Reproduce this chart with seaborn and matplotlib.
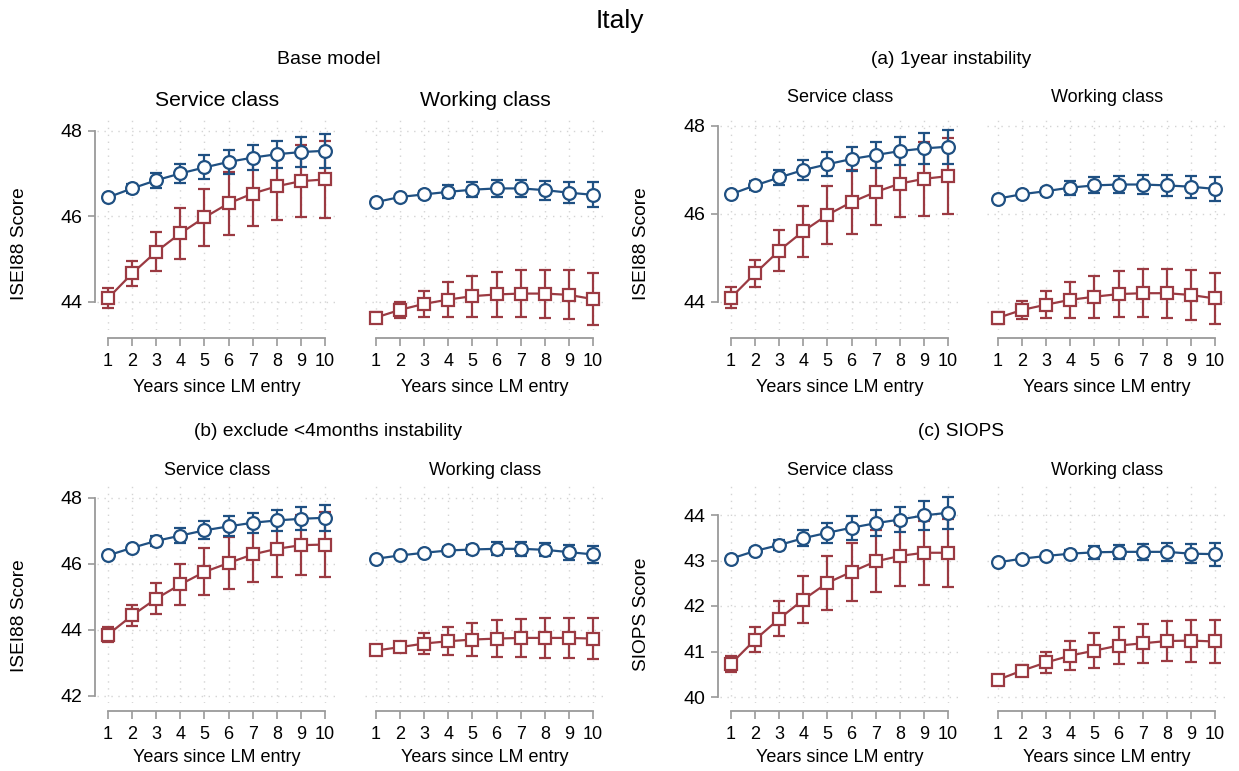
import matplotlib
matplotlib.use("Agg")
import matplotlib.pyplot as plt
import seaborn as sns
import pandas as pd

# ---------------------------------------------------------------------------
# Predicted occupational scores by years since labour-market entry
# (point estimate and half-width of the 95% confidence interval)
# ---------------------------------------------------------------------------
years = [1, 2, 3, 4, 5, 6, 7, 8, 9, 10]

# Base model (ISEI88)
base_service_stable = [46.44, 46.65, 46.84, 47.00, 47.14, 47.27, 47.37, 47.45, 47.50, 47.53]
base_service_stable_ci = [0.05, 0.10, 0.17, 0.23, 0.28, 0.28, 0.30, 0.32, 0.35, 0.40]
base_service_unstable = [44.08, 44.66, 45.17, 45.60, 45.97, 46.30, 46.53, 46.70, 46.82, 46.86]
base_service_unstable_ci = [0.23, 0.29, 0.45, 0.59, 0.67, 0.74, 0.75, 0.80, 0.84, 0.90]
base_working_stable = [46.33, 46.45, 46.51, 46.57, 46.62, 46.65, 46.65, 46.61, 46.55, 46.50]
base_working_stable_ci = [0.03, 0.05, 0.08, 0.15, 0.18, 0.20, 0.20, 0.22, 0.25, 0.29]
base_working_unstable = [43.63, 43.81, 43.95, 44.05, 44.13, 44.17, 44.19, 44.19, 44.16, 44.06]
base_working_unstable_ci = [0.13, 0.19, 0.31, 0.41, 0.48, 0.53, 0.55, 0.56, 0.57, 0.60]

# (a) 1 year instability (ISEI88)
a_service_stable = [46.45, 46.65, 46.83, 47.00, 47.13, 47.25, 47.34, 47.43, 47.49, 47.53]
a_service_stable_ci = [0.05, 0.10, 0.17, 0.22, 0.27, 0.28, 0.30, 0.32, 0.35, 0.39]
a_service_unstable = [44.10, 44.65, 45.17, 45.61, 45.98, 46.27, 46.50, 46.69, 46.80, 46.86]
a_service_unstable_ci = [0.24, 0.31, 0.46, 0.58, 0.66, 0.73, 0.74, 0.76, 0.84, 0.87]
a_working_stable = [46.35, 46.45, 46.52, 46.60, 46.65, 46.67, 46.67, 46.65, 46.62, 46.57]
a_working_stable_ci = [0.03, 0.05, 0.08, 0.16, 0.18, 0.20, 0.22, 0.24, 0.25, 0.27]
a_working_unstable = [43.64, 43.82, 43.94, 44.05, 44.12, 44.18, 44.20, 44.20, 44.16, 44.08]
a_working_unstable_ci = [0.13, 0.20, 0.31, 0.41, 0.48, 0.52, 0.55, 0.56, 0.56, 0.59]

# (b) exclude <4 months instability (ISEI88)
b_service_stable = [46.26, 46.49, 46.70, 46.86, 47.02, 47.14, 47.25, 47.32, 47.37, 47.40]
b_service_stable_ci = [0.05, 0.07, 0.15, 0.23, 0.27, 0.30, 0.31, 0.33, 0.35, 0.39]
b_service_unstable = [43.86, 44.44, 44.95, 45.38, 45.76, 46.03, 46.29, 46.46, 46.57, 46.59]
b_service_unstable_ci = [0.22, 0.32, 0.47, 0.62, 0.71, 0.78, 0.84, 0.86, 0.91, 0.98]
b_working_stable = [46.16, 46.26, 46.34, 46.41, 46.44, 46.46, 46.46, 46.43, 46.36, 46.29]
b_working_stable_ci = [0.02, 0.03, 0.05, 0.10, 0.15, 0.20, 0.22, 0.20, 0.23, 0.27]
b_working_unstable = [43.38, 43.48, 43.59, 43.66, 43.71, 43.74, 43.76, 43.76, 43.76, 43.74]
b_working_unstable_ci = [0.07, 0.10, 0.33, 0.43, 0.50, 0.55, 0.58, 0.60, 0.61, 0.63]

# (c) SIOPS
c_service_stable = [43.04, 43.21, 43.34, 43.49, 43.61, 43.72, 43.82, 43.90, 43.99, 44.05]
c_service_stable_ci = [0.03, 0.06, 0.11, 0.18, 0.22, 0.26, 0.29, 0.28, 0.31, 0.35]
c_service_unstable = [40.73, 41.26, 41.72, 42.14, 42.51, 42.75, 42.98, 43.10, 43.17, 43.17]
c_service_unstable_ci = [0.18, 0.27, 0.39, 0.51, 0.59, 0.64, 0.68, 0.67, 0.70, 0.75]
c_working_stable = [42.96, 43.04, 43.10, 43.15, 43.18, 43.19, 43.19, 43.19, 43.15, 43.14]
c_working_stable_ci = [0.02, 0.03, 0.04, 0.07, 0.14, 0.16, 0.18, 0.20, 0.21, 0.25]
c_working_unstable = [40.38, 40.58, 40.76, 40.91, 41.02, 41.13, 41.18, 41.23, 41.24, 41.22]
c_working_unstable_ci = [0.05, 0.12, 0.24, 0.32, 0.38, 0.41, 0.43, 0.44, 0.46, 0.48]

# ---------------------------------------------------------------------------
sns.set_theme(style="white")
plt.rcParams["font.family"] = ["Liberation Sans", "DejaVu Sans"]

BLUE = "#1f5082"
RED = "#9b3a42"
AXIS_GREY = "#9a9a9a"
GRID_GREY = "#d4d4d4"
LW = 1.6

W, H = 1239, 771
fig = plt.figure(figsize=(W / 100, H / 100), dpi=100)
fig.patch.set_facecolor("white")


def fx(px):
    return px / W


def fy(py):
    return 1 - py / H


def add_panel(x1_px, x10_px, ytop, ybot, yanch, yticks, stable, stable_ci,
              unstable, unstable_ci, show_y, spine_off_px=8):
    """Add one axes whose data coordinates land on the requested pixels."""
    left, right = x1_px - 11, x10_px + 11
    ax = fig.add_axes([fx(left), fy(ybot), (right - left) / W, (ybot - ytop) / H])
    ppu_x = (x10_px - x1_px) / 9
    ax.set_xlim(1 - (x1_px - left) / ppu_x, 10 + (right - x10_px) / ppu_x)
    (va, pa), (vb, pb) = yanch
    ppu_y = (pb - pa) / (va - vb)
    ax.set_ylim(va - (ybot - pa) / ppu_y, va + (pa - ytop) / ppu_y)

    df = pd.DataFrame({
        "year": years * 2,
        "score": stable + unstable,
        "ci": stable_ci + unstable_ci,
        "series": ["stable"] * 10 + ["unstable"] * 10,
    })
    styles = (("unstable", RED, "s", 8.6), ("stable", BLUE, "o", 9.2))

    # confidence intervals
    for name, color, marker, ms in styles:
        sub = df[df["series"] == name]
        ax.errorbar(sub["year"], sub["score"], yerr=sub["ci"], fmt="none",
                    ecolor=color, elinewidth=LW, capsize=4.4, capthick=LW,
                    zorder=2)
    # point estimates connected by lines, hollow markers on top
    for name, color, marker, ms in styles:
        sub = df[df["series"] == name]
        sns.lineplot(data=sub, x="year", y="score", ax=ax, color=color,
                     marker=marker, markersize=ms, markerfacecolor="white",
                     markeredgecolor=color, markeredgewidth=LW, linewidth=LW,
                     errorbar=None, legend=False, zorder=3)
    for ln in ax.lines:
        if ln.get_marker() in ("o", "s"):
            ln.set_markerfacecolor("white")
            ln.set_markeredgecolor(ln.get_color())
            ln.set_markeredgewidth(LW)

    ax.set_xticks(years)
    ax.set_yticks(yticks)
    ax.grid(True, color=GRID_GREY, linestyle=(0, (1, 4)), linewidth=1.0)
    ax.set_axisbelow(True)
    ax.set_xlabel("")
    ax.set_ylabel("")
    for s in ("top", "right"):
        ax.spines[s].set_visible(False)
    ax.spines["bottom"].set_position(("outward", spine_off_px * 0.72))
    ax.spines["bottom"].set_bounds(1, 10)
    ax.spines["bottom"].set_color(AXIS_GREY)
    ax.spines["bottom"].set_linewidth(1.3)
    ax.tick_params(axis="x", bottom=True, length=5.5, width=1.2,
                   color=AXIS_GREY, labelsize=13, pad=5, labelcolor="black")
    if show_y:
        ax.spines["left"].set_position(("outward", 2 * 0.72))
        ax.spines["left"].set_bounds(min(yticks), max(yticks))
        ax.spines["left"].set_color(AXIS_GREY)
        ax.spines["left"].set_linewidth(1.3)
        ax.tick_params(axis="y", left=True, length=5, width=1.2,
                       color=AXIS_GREY, labelsize=14, pad=4, labelcolor="black")
    else:
        ax.spines["left"].set_visible(False)
        ax.tick_params(axis="y", left=False, labelleft=False)
    ax.set_facecolor("white")
    return ax


def label_panel(cx, cy, text, size):
    fig.text(fx(cx), fy(cy), text, ha="center", va="center", fontsize=size,
             color="black")


def ylabel_panel(cx, cy, text):
    fig.text(fx(cx), fy(cy), text, rotation=90, ha="center", va="center",
             fontsize=13.8, color="black")


# Overall title
label_panel(620, 21, "Italy", 19)

# ---- Base model --------------------------------------------------------
add_panel(108, 325, 115, 330, ((48, 130.7), (44, 301.7)), [44, 46, 48],
          base_service_stable, base_service_stable_ci,
          base_service_unstable, base_service_unstable_ci, True)
add_panel(376, 593, 115, 330, ((48, 130.7), (44, 301.7)), [44, 46, 48],
          base_working_stable, base_working_stable_ci,
          base_working_unstable, base_working_unstable_ci, False)
label_panel(329, 60, "Base model", 14)
label_panel(217, 101, "Service class", 15.2)
label_panel(485, 101, "Working class", 15.2)
label_panel(217, 387, "Years since LM entry", 13)
label_panel(485, 387, "Years since LM entry", 13)
ylabel_panel(20, 244, "ISEI88 Score")

# ---- (a) 1 year instability ----------------------------------------------
add_panel(731, 948, 115, 330, ((48, 126), (44, 302)), [44, 46, 48],
          a_service_stable, a_service_stable_ci,
          a_service_unstable, a_service_unstable_ci, True)
add_panel(998, 1215, 115, 330, ((48, 126), (44, 302)), [44, 46, 48],
          a_working_stable, a_working_stable_ci,
          a_working_unstable, a_working_unstable_ci, False)
label_panel(951, 60, "(a) 1year instability", 13.8)
label_panel(840, 98, "Service class", 13)
label_panel(1107, 98, "Working class", 13)
label_panel(840, 387, "Years since LM entry", 13)
label_panel(1107, 387, "Years since LM entry", 13)
ylabel_panel(641, 244, "ISEI88 Score")

# ---- (b) exclude <4 months instability ------------------------------------
add_panel(108, 325, 485, 703, ((48, 498), (42, 696)), [42, 44, 46, 48],
          b_service_stable, b_service_stable_ci,
          b_service_unstable, b_service_unstable_ci, True)
add_panel(376, 593, 485, 703, ((48, 498), (42, 696)), [42, 44, 46, 48],
          b_working_stable, b_working_stable_ci,
          b_working_unstable, b_working_unstable_ci, False)
label_panel(328, 432, "(b) exclude <4months instability", 13.8)
label_panel(217, 470, "Service class", 13)
label_panel(485, 470, "Working class", 13)
label_panel(217, 758, "Years since LM entry", 13)
label_panel(485, 758, "Years since LM entry", 13)
ylabel_panel(20, 616, "ISEI88 Score")

# ---- (c) SIOPS ----------------------------------------------------------
add_panel(731, 948, 485, 703, ((44, 515), (40, 697)), [40, 41, 42, 43, 44],
          c_service_stable, c_service_stable_ci,
          c_service_unstable, c_service_unstable_ci, True)
add_panel(998, 1215, 485, 703, ((44, 515), (40, 697)), [40, 41, 42, 43, 44],
          c_working_stable, c_working_stable_ci,
          c_working_unstable, c_working_unstable_ci, False)
label_panel(961, 432, "(c) SIOPS", 13.8)
label_panel(840, 470, "Service class", 13)
label_panel(1107, 470, "Working class", 13)
label_panel(840, 758, "Years since LM entry", 13)
label_panel(1107, 758, "Years since LM entry", 13)
ylabel_panel(641, 614, "SIOPS Score")

fig.savefig("out.png", dpi=100, facecolor="white")
